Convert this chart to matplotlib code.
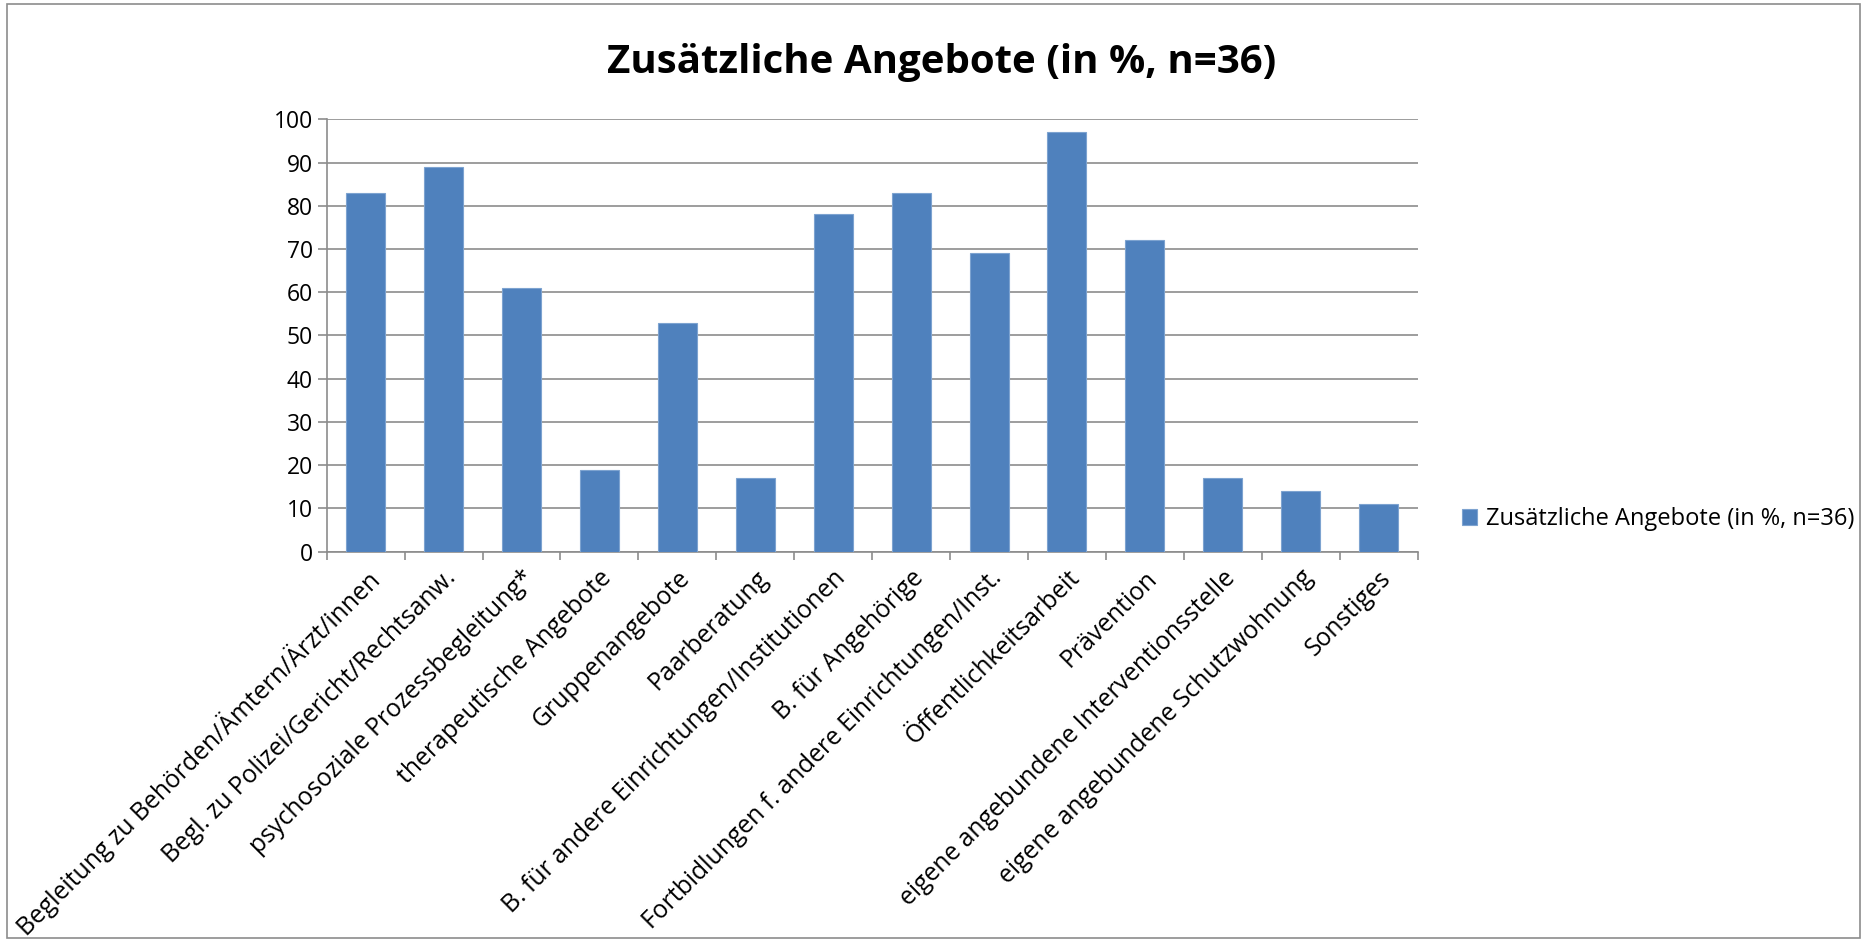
import matplotlib
matplotlib.use("Agg")
import matplotlib.pyplot as plt
from matplotlib.patches import Rectangle

plt.rcParams["font.family"] = ["Open Sans", "DejaVu Sans"]

categories = [
    "Begleitung zu Behörden/Ämtern/Ärzt/innen",
    "Begl. zu Polizei/Gericht/Rechtsanw.",
    "psychosoziale Prozessbegleitung*",
    "therapeutische Angebote",
    "Gruppenangebote",
    "Paarberatung",
    "B. für andere Einrichtungen/Institutionen",
    "B. für Angehörige",
    "Fortbidlungen f. andere Einrichtungen/Inst.",
    "Öffentlichkeitsarbeit",
    "Prävention",
    "eigene angebundene Interventionsstelle",
    "eigene angebundene Schutzwohnung",
    "Sonstiges",
]
values = [83, 89, 61, 19, 53, 17, 78, 83, 69, 97, 72, 17, 14, 11]
series_name = "Zusätzliche Angebote (in %, n=36)"
title = "Zusätzliche Angebote (in %, n=36)"
yticks = list(range(0, 101, 10))

bar_color = "#4F81BD"
grid_color = "#8c8c8c"

fig = plt.figure(figsize=(18.67, 9.42), dpi=100)
ax = fig.add_axes([0.175, 0.4143, 0.5843, 0.4591])

x = range(len(categories))
ax.bar(x, values, width=0.5, color=bar_color, edgecolor="#7da3d0", linewidth=0.8,
       label=series_name, zorder=3)

ax.set_xlim(-0.5, len(categories) - 0.5)
ax.set_ylim(0, 100)
ax.set_yticks(yticks)
ax.tick_params(axis="y", length=6.5, width=1.2, color=grid_color, labelsize=16.5, pad=3.6)
ax.yaxis.grid(True, color=grid_color, linewidth=1.2, zorder=0)

# category ticks sit between the bars
ax.set_xticks([i - 0.5 for i in range(len(categories) + 1)], minor=False)
ax.set_xticklabels([])
ax.tick_params(axis="x", which="major", length=6, width=1.2, color=grid_color)
ax.set_xticks(list(x), minor=True)
ax.set_xticklabels(categories, minor=True, rotation=45, ha="right",
                   rotation_mode="anchor", fontsize=17.8)
ax.tick_params(axis="x", which="minor", length=0, pad=10)

for side in ["top", "right"]:
    ax.spines[side].set_visible(False)
for side in ["left", "bottom"]:
    ax.spines[side].set_color(grid_color)
    ax.spines[side].set_linewidth(1.2)

fig.text(0.5045, 0.934, title, ha="center", va="center", fontsize=29, fontweight="bold")

leg = fig.legend(loc="center left", bbox_to_anchor=(0.7715, 0.449), frameon=False,
                 fontsize=17, handlelength=0.65, handleheight=0.65, handletextpad=0.4)

# outer chart border
fig.patches.append(Rectangle((0.004, 0.004), 0.992, 0.992, transform=fig.transFigure,
                             fill=False, edgecolor="#8c8c8c", linewidth=1.2))

fig.savefig("out.png", dpi=100)
